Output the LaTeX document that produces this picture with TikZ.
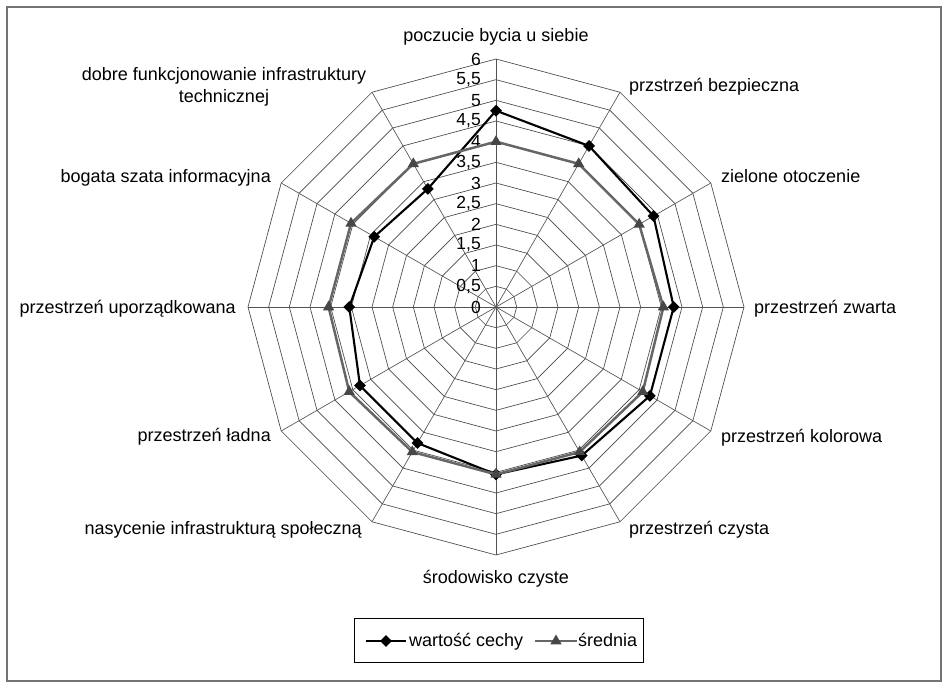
\documentclass[tikz,border=0pt]{standalone}
\usepackage{fontspec}
\setmainfont{Liberation Sans}
\usetikzlibrary{shapes.geometric}
\begin{document}
\begin{tikzpicture}[x=1pt,y=-1pt,
  lbl/.style={inner sep=0pt, font=\fontsize{18}{21}\selectfont},
  tick/.style={inner sep=0pt, anchor=east, font=\fontsize{17.5}{20}\selectfont},
  ring/.style={draw=black!72, line width=0.65pt},
  spoke/.style={draw=black!68, line width=0.65pt},
  serA/.style={draw=black, line width=2.1pt, line join=round},
  serB/.style={draw=black!60, line width=2.5pt, line join=round},
  dmark/.style={diamond, fill=black, inner sep=0pt, minimum width=12pt, minimum height=12pt},
  tmark/.style={regular polygon, regular polygon sides=3, fill=black!72, inner sep=0pt, minimum size=13pt},
]
\fill[white] (0,0) rectangle (948,687);
\draw[black!55, line width=1.2pt] (7,7) rectangle (941,681);

\begin{scope}[shift={(496,307)}]
  \foreach \k in {1,...,12} {
    \pgfmathsetmacro\r{\k*248/12}
    \draw[ring] (90:\r pt) \foreach \a in {60,30,...,-240} { -- (\a:\r pt) } -- cycle;
  }
  \foreach \a in {90,60,...,-240} \draw[spoke] (0,0) -- (\a:248pt);

  \node[tick] (t0)  at (-15,0) {0};
  \node[tick] (t1)  at (-15,{-1*248/12}) {0,5};
  \node[tick] (t2)  at (-15,{-2*248/12}) {1};
  \node[tick] (t3)  at (-15,{-3*248/12}) {1,5};
  \node[tick] (t4)  at (-15,{-4*248/12}) {2};
  \node[tick] (t5)  at (-15,{-5*248/12}) {2,5};
  \node[tick] (t6)  at (-15,{-6*248/12}) {3};
  \node[tick] (t7)  at (-15,{-7*248/12}) {3,5};
  \node[tick] (t8)  at (-15,{-8*248/12}) {4};
  \node[tick] (t9)  at (-15,{-9*248/12}) {4,5};
  \node[tick] (t10) at (-15,{-10*248/12}) {5};
  \node[tick] (t11) at (-15,{-11*248/12}) {5,5};
  \node[tick] (t12) at (-15,{-12*248/12}) {6};

  \foreach \v [count=\i from 0] in {4.75,4.5,4.4,4.3,4.3,4.15,4.05,3.8,3.8,3.55,3.4,3.3}
    \coordinate (a\i) at ({90-30*\i}:{\v*41.333pt});
  \foreach \v [count=\i from 0] in {4.0,4.0,4.0,4.05,4.1,4.05,4.05,4.05,4.1,4.05,4.05,4.0}
    \coordinate (b\i) at ({90-30*\i}:{\v*41.333pt});
\end{scope}

\draw[serA] (a0) -- (a1) -- (a2) -- (a3) -- (a4) -- (a5) -- (a6) -- (a7) -- (a8) -- (a9) -- (a10) -- (a11) -- cycle;
\foreach \i in {0,...,11} \node[dmark] (ma\i) at (a\i) {};
\draw[serB] (b0) -- (b1) -- (b2) -- (b3) -- (b4) -- (b5) -- (b6) -- (b7) -- (b8) -- (b9) -- (b10) -- (b11) -- cycle;
\foreach \i in {0,...,11} \node[tmark] (mb\i) at (b\i) {};

% axis labels
\node[lbl, anchor=base] (L0) at (496,42) {poczucie bycia u siebie};
\node[lbl, anchor=base west] (L1) at (629,92) {przstrzeń bezpieczna};
\node[lbl, anchor=base west] (L2) at (721,183) {zielone otoczenie};
\node[lbl, anchor=base west] (L3) at (754,313) {przestrzeń zwarta};
\node[lbl, anchor=base west] (L4) at (721,442) {przestrzeń kolorowa};
\node[lbl, anchor=base west] (L5) at (629,534) {przestrzeń czysta};
\node[lbl, anchor=base] (L6) at (496,583) {środowisko czyste};
\node[lbl, anchor=base east] (L7) at (362,534) {nasycenie infrastrukturą społeczną};
\node[lbl, anchor=base east] (L8) at (271,441) {przestrzeń ładna};
\node[lbl, anchor=base east] (L9) at (236,313) {przestrzeń uporządkowana};
\node[lbl, anchor=base east] (L10) at (271,183) {bogata szata informacyjna};
\node[lbl, anchor=base, align=center] (L11a) at (224,81) {dobre funkcjonowanie infrastruktury};
\node[lbl, anchor=base, align=center] (L11b) at (224,103) {technicznej};

% legend
\draw[black, line width=0.8pt] (354,618) rectangle (643,662);
\coordinate (la1) at (366,641);
\coordinate (la2) at (406,641);
\draw[serA] (la1) -- (la2);
\node[dmark] (lma) at (386,641) {};
\node[lbl, anchor=base west] (lta) at (409,646) {wartość cechy};
\coordinate (lb1) at (535,641);
\coordinate (lb2) at (577,641);
\draw[serB] (lb1) -- (lb2);
\node[tmark] (lmb) at (556,641) {};
\node[lbl, anchor=base west] (ltb) at (578,646) {średnia};
\end{tikzpicture}
\end{document}
